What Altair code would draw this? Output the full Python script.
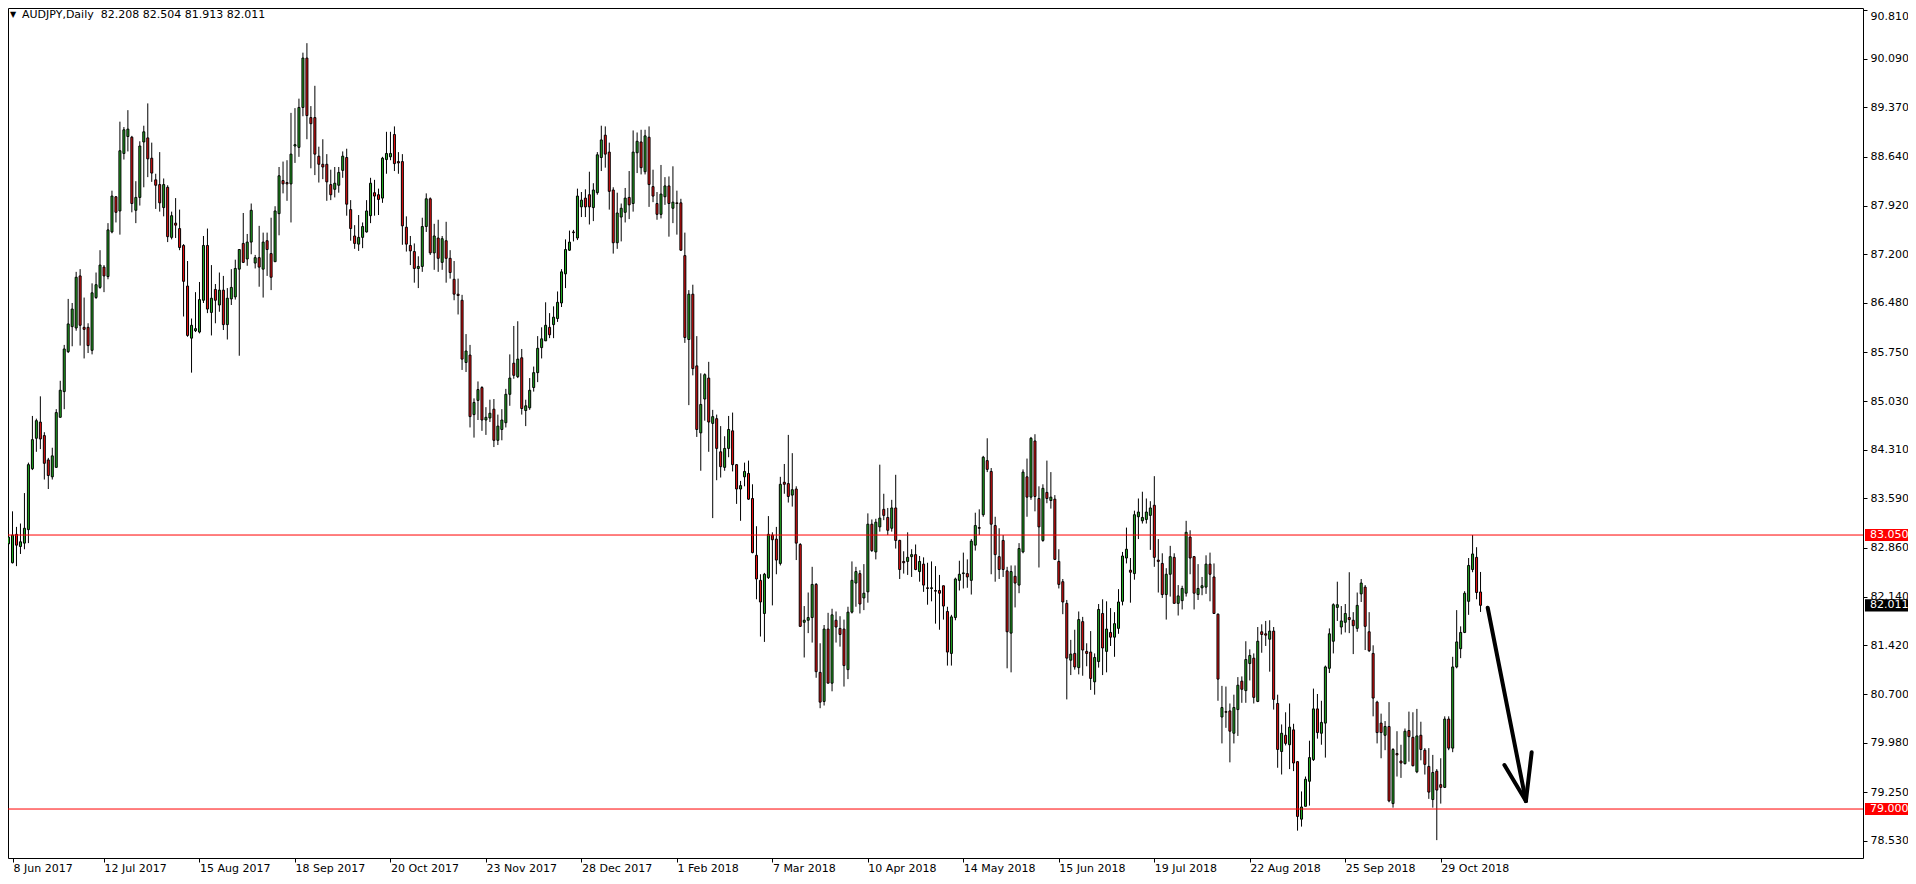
import altair as alt
import pandas as pd

# ---- data (daily AUDJPY candles, 8 Jun 2017 .. 12 Nov 2018) ----
date_labels = ["8 Jun 2017", "12 Jul 2017", "15 Aug 2017", "18 Sep 2017", "20 Oct 2017",
               "23 Nov 2017", "28 Dec 2017", "1 Feb 2018", "7 Mar 2018", "10 Apr 2018",
               "14 May 2018", "15 Jun 2018", "19 Jul 2018", "22 Aug 2018", "25 Sep 2018",
               "29 Oct 2018"]
price_ticks = [90.81, 90.09, 89.37, 88.64, 87.92, 87.20, 86.48, 85.75, 85.03, 84.31,
               83.59, 82.86, 82.14, 81.42, 80.70, 79.98, 79.25, 78.53]

opens = [
    82.92, 82.64, 83.06, 82.88, 82.93, 83.13, 84.03, 84.48, 84.72, 84.52,
    84.16, 83.91, 84.05, 84.79, 85.17, 85.76, 86.13, 86.11, 86.88, 86.12,
    86.12, 85.78, 86.56, 86.71, 87.01, 86.87, 87.53, 88.05, 87.84, 88.69,
    88.94, 88.93, 87.85, 88.04, 88.86, 88.92, 88.62, 88.30, 88.23, 87.89,
    88.19, 87.45, 87.66, 87.58, 87.33, 86.73, 85.96, 86.07, 86.05, 86.52,
    87.33, 86.34, 86.68, 86.45, 86.67, 86.16, 86.54, 86.57, 86.98, 87.36,
    87.13, 87.38, 87.07, 87.15, 86.98, 87.40, 87.21, 87.09, 87.80, 88.29,
    88.26, 88.24, 88.80, 88.78, 89.37, 90.10, 89.22, 89.22, 88.65, 88.53,
    88.53, 88.23, 88.16, 88.22, 88.44, 88.63, 87.86, 87.47, 87.35, 87.45,
    87.53, 87.77, 88.11, 88.08, 88.03, 88.60, 88.64, 88.97, 88.57, 88.57,
    87.60, 87.33, 87.24, 86.99, 87.02, 87.61, 88.02, 87.22, 87.44, 87.08,
    87.40, 87.14, 86.83, 86.61, 86.52, 85.60, 85.71, 84.83, 85.04, 85.23,
    84.75, 84.78, 84.91, 84.45, 84.61, 84.71, 85.13, 85.59, 85.39, 85.67,
    84.89, 84.93, 85.23, 85.45, 85.82, 85.92, 86.12, 86.16, 86.25, 86.48,
    86.91, 87.26, 87.53, 87.44, 87.90, 88.03, 88.08, 87.89, 88.11, 88.63,
    88.96, 88.71, 88.15, 87.37, 87.75, 87.82, 88.04, 87.95, 88.70, 88.86,
    88.42, 88.93, 88.20, 87.95, 87.79, 88.05, 88.21, 87.88, 87.96, 87.96,
    87.18, 85.94, 86.61, 85.55, 84.56, 85.06, 85.37, 84.70, 84.77, 84.28,
    84.05, 84.33, 84.59, 84.09, 83.73, 83.91, 83.96, 83.59, 82.75, 82.38,
    81.89, 82.42, 83.05, 82.99, 82.63, 83.83, 83.81, 83.64, 83.73, 82.91,
    81.76, 81.79, 81.83, 82.32, 81.02, 80.59, 81.66, 80.86, 81.79, 81.67,
    81.66, 81.06, 81.91, 82.34, 82.48, 82.12, 82.21, 83.21, 82.80, 83.17,
    83.43, 83.31, 83.15, 83.45, 82.97, 82.66, 82.66, 82.73, 82.76, 82.51,
    82.62, 82.27, 82.26, 82.23, 82.23, 82.30, 81.92, 81.30, 81.83, 82.38,
    82.48, 82.48, 82.38, 82.90, 83.16, 83.35, 84.15, 83.99, 83.19, 82.73,
    82.97, 82.52, 81.60, 82.44, 82.31, 82.80, 83.91, 83.61, 84.44, 83.59,
    82.97, 83.68, 83.56, 83.58, 82.66, 82.36, 82.04, 81.20, 81.30, 81.09,
    81.77, 81.33, 81.32, 80.88, 81.18, 81.89, 81.33, 81.61, 81.54, 81.67,
    82.07, 82.71, 82.53, 82.48, 83.32, 83.26, 83.28, 83.34, 83.49, 82.68,
    82.63, 82.17, 82.47, 82.72, 82.04, 82.08, 82.19, 83.02, 82.73, 82.17,
    82.27, 82.28, 82.62, 82.43, 81.88, 80.36, 80.44, 80.45, 80.12, 80.47,
    80.89, 80.75, 81.15, 81.23, 80.59, 81.62, 81.59, 81.51, 81.63, 80.56,
    79.85, 80.09, 79.95, 80.17, 79.70, 78.85, 79.04, 79.41, 79.73, 80.48,
    80.12, 80.27, 81.08, 81.48, 81.98, 81.69, 81.76, 81.83, 81.79, 81.67,
    82.18, 82.28, 81.62, 81.30, 80.58, 80.27, 80.09, 80.22, 79.08, 79.82,
    79.71, 79.67, 80.16, 80.06, 79.55, 80.09, 79.87, 79.63, 79.14, 79.56,
    79.36, 79.32, 80.33, 79.90, 81.10, 81.37, 81.61, 82.07, 82.54, 82.72,
    82.208,
]
highs = [
    83.22, 83.40, 83.17, 83.22, 83.67, 84.12, 84.81, 84.77, 85.10, 84.57,
    84.19, 84.34, 84.91, 85.33, 85.86, 86.54, 86.48, 86.94, 86.98, 86.56,
    86.18, 86.77, 86.93, 87.26, 87.04, 87.66, 88.14, 88.06, 89.16, 89.08,
    89.33, 88.95, 88.28, 88.87, 89.10, 89.43, 88.85, 88.39, 88.71, 88.32,
    88.22, 87.83, 88.03, 87.86, 87.35, 87.10, 86.25, 86.64, 86.79, 87.47,
    87.58, 87.04, 86.76, 86.93, 86.88, 86.70, 86.98, 87.12, 87.27, 87.81,
    87.50, 87.95, 87.19, 87.62, 87.52, 87.52, 87.74, 87.91, 88.49, 88.57,
    88.59, 89.29, 89.36, 89.50, 90.18, 90.32, 89.39, 89.69, 88.79, 88.90,
    88.68, 88.45, 88.49, 88.49, 88.72, 88.76, 88.00, 87.63, 87.78, 87.67,
    88.00, 88.33, 88.30, 88.17, 88.64, 89.01, 89.01, 89.09, 88.71, 88.68,
    87.76, 87.47, 87.36, 87.17, 87.74, 88.10, 88.04, 87.65, 87.71, 87.47,
    87.68, 87.26, 87.10, 86.84, 86.60, 86.02, 85.86, 85.07, 85.32, 85.25,
    84.94, 85.05, 85.06, 84.83, 84.91, 85.21, 85.72, 86.14, 86.21, 85.80,
    85.05, 85.37, 85.54, 85.99, 86.12, 86.49, 86.33, 86.43, 86.65, 86.98,
    87.42, 87.55, 87.56, 88.17, 88.12, 88.16, 88.42, 88.25, 88.71, 89.10,
    89.09, 88.85, 88.19, 88.11, 87.95, 88.18, 88.43, 89.03, 89.00, 89.04,
    89.04, 89.09, 88.45, 88.12, 88.52, 88.34, 88.35, 88.50, 88.14, 88.02,
    87.52, 86.67, 86.75, 85.99, 85.44, 85.44, 85.61, 84.90, 84.83, 84.66,
    84.51, 84.81, 84.86, 84.10, 83.85, 84.12, 84.15, 83.80, 83.18, 82.47,
    82.49, 83.33, 83.09, 83.17, 83.91, 84.10, 84.53, 84.26, 83.77, 82.93,
    82.00, 82.20, 82.58, 82.34, 81.45, 81.72, 81.90, 81.96, 81.92, 81.85,
    81.80, 81.99, 82.66, 82.58, 82.53, 82.62, 83.37, 83.28, 83.29, 84.09,
    83.66, 83.45, 83.57, 83.94, 82.98, 82.81, 83.09, 82.84, 82.91, 82.74,
    82.72, 82.64, 82.66, 82.59, 82.46, 82.30, 81.99, 81.87, 82.42, 82.67,
    82.79, 82.69, 82.99, 83.38, 83.43, 84.22, 84.48, 84.04, 83.32, 83.15,
    83.05, 82.58, 82.60, 82.60, 82.93, 84.02, 84.18, 84.50, 84.54, 83.77,
    83.80, 84.15, 83.98, 83.64, 82.84, 82.40, 82.09, 81.50, 81.65, 81.92,
    81.84, 81.45, 81.63, 81.30, 82.03, 82.10, 82.07, 81.97, 81.91, 82.25,
    82.80, 83.16, 82.71, 83.41, 83.59, 83.69, 83.59, 83.55, 83.92, 82.99,
    82.78, 82.56, 82.89, 82.78, 82.31, 82.30, 83.26, 83.12, 82.74, 82.62,
    82.43, 82.75, 82.79, 82.63, 81.89, 80.82, 80.81, 80.56, 80.69, 80.95,
    80.96, 81.48, 81.36, 81.30, 81.69, 81.73, 81.78, 81.79, 81.69, 80.69,
    80.25, 80.43, 80.56, 80.26, 79.71, 79.26, 79.48, 80.01, 80.78, 80.70,
    80.60, 81.12, 81.67, 82.04, 82.36, 82.00, 82.03, 82.50, 81.91, 82.20,
    82.40, 82.31, 81.91, 81.42, 80.60, 80.41, 80.30, 80.58, 79.90, 80.15,
    79.95, 80.19, 80.44, 80.43, 80.48, 80.29, 79.90, 79.90, 79.80, 79.59,
    79.75, 80.37, 80.37, 81.25, 81.94, 81.70, 82.22, 82.71, 83.05, 82.87,
    82.504,
]
lows = [
    82.56, 82.63, 82.59, 82.77, 82.84, 82.93, 84.01, 84.28, 84.32, 83.87,
    83.73, 83.87, 84.05, 84.79, 84.91, 85.74, 85.84, 86.07, 85.85, 85.66,
    85.74, 85.72, 86.54, 86.69, 86.64, 86.83, 87.51, 87.67, 87.49, 88.60,
    88.72, 87.82, 87.66, 87.92, 88.19, 88.34, 88.27, 87.87, 87.83, 87.76,
    87.38, 87.42, 87.44, 87.26, 86.28, 85.98, 85.45, 86.05, 86.03, 86.48,
    86.33, 86.00, 86.18, 86.35, 86.08, 85.94, 86.45, 86.53, 85.70, 87.07,
    87.03, 87.20, 86.99, 86.72, 86.56, 86.88, 86.67, 87.09, 87.48, 88.10,
    87.99, 87.67, 88.55, 88.64, 89.24, 88.90, 88.47, 88.37, 88.26, 88.31,
    87.99, 88.00, 88.04, 88.11, 88.33, 87.77, 87.40, 87.28, 87.25, 87.29,
    87.52, 87.66, 87.77, 87.78, 87.96, 88.39, 88.59, 88.43, 88.39, 87.34,
    87.24, 87.04, 86.78, 86.70, 86.94, 87.53, 87.19, 86.97, 86.94, 86.97,
    86.78, 86.84, 86.52, 86.31, 85.49, 85.46, 84.64, 84.49, 84.75, 84.59,
    84.53, 84.72, 84.35, 84.38, 84.45, 84.64, 84.96, 85.36, 85.37, 84.83,
    84.66, 84.90, 85.17, 85.31, 85.66, 85.92, 85.96, 85.96, 86.20, 86.42,
    86.70, 87.25, 87.39, 87.41, 87.75, 87.75, 87.64, 87.69, 88.08, 88.43,
    88.48, 87.86, 87.21, 87.28, 87.39, 87.67, 87.72, 87.83, 88.40, 88.38,
    88.38, 87.90, 87.97, 87.71, 87.73, 87.93, 87.46, 87.66, 87.49, 87.25,
    85.89, 84.97, 85.41, 84.50, 84.00, 84.74, 84.28, 83.30, 83.86, 83.90,
    84.00, 84.20, 83.99, 83.51, 83.26, 83.77, 83.57, 82.78, 82.10, 81.55,
    81.47, 82.40, 82.01, 82.47, 82.60, 83.66, 83.53, 83.47, 82.68, 81.69,
    81.24, 81.60, 81.46, 80.94, 80.49, 80.53, 80.86, 80.74, 81.46, 81.40,
    80.81, 80.92, 81.89, 81.99, 81.89, 81.94, 82.05, 82.80, 82.69, 83.10,
    83.27, 83.05, 83.10, 82.85, 82.40, 82.48, 82.46, 82.43, 82.53, 82.36,
    82.21, 82.02, 82.07, 81.74, 81.65, 81.80, 81.12, 81.12, 81.79, 82.23,
    82.26, 82.27, 82.17, 82.82, 83.05, 83.32, 83.98, 82.47, 82.36, 82.40,
    82.43, 81.08, 81.02, 81.98, 82.19, 82.78, 83.32, 83.57, 83.40, 82.57,
    82.95, 83.52, 83.44, 82.68, 82.26, 81.88, 80.62, 80.98, 81.06, 80.99,
    80.97, 81.11, 80.76, 80.69, 81.09, 80.98, 81.02, 81.41, 81.25, 81.59,
    82.01, 82.63, 82.05, 82.39, 82.99, 83.22, 83.22, 82.83, 82.58, 82.20,
    82.12, 81.80, 82.14, 82.04, 81.86, 81.95, 82.14, 82.47, 81.95, 82.09,
    82.16, 82.18, 82.07, 81.89, 80.60, 79.97, 80.20, 79.69, 79.97, 80.08,
    80.57, 80.57, 80.90, 80.56, 80.58, 81.31, 81.41, 81.03, 80.47, 79.61,
    79.51, 79.94, 79.59, 79.56, 78.68, 78.74, 79.04, 79.05, 79.71, 80.04,
    79.95, 79.76, 81.01, 81.30, 81.78, 81.58, 81.61, 81.60, 81.29, 81.62,
    82.06, 81.35, 81.32, 80.37, 79.97, 79.75, 79.87, 79.10, 79.02, 79.48,
    79.46, 79.66, 79.70, 79.63, 79.53, 79.72, 79.51, 79.15, 79.02, 78.54,
    79.08, 79.31, 79.87, 79.84, 81.08, 81.23, 81.60, 81.87, 82.50, 82.10,
    81.913,
]
closes = [
    83.02, 83.05, 82.90, 82.95, 83.15, 84.09, 84.46, 84.74, 84.47, 84.11,
    83.93, 84.22, 84.86, 85.19, 85.80, 86.17, 86.39, 86.86, 86.15, 86.09,
    85.85, 86.63, 86.75, 87.04, 86.88, 87.56, 88.06, 87.82, 88.73, 89.04,
    89.05, 87.95, 88.04, 88.80, 89.01, 88.61, 88.40, 88.22, 87.96, 88.23,
    87.46, 87.77, 87.63, 87.30, 86.80, 86.00, 86.15, 86.10, 86.53, 87.33,
    86.39, 86.55, 86.52, 86.67, 86.16, 86.55, 86.71, 86.99, 87.27, 87.08,
    87.38, 87.85, 87.15, 87.01, 87.38, 87.27, 86.86, 87.84, 88.36, 88.24,
    88.24, 88.68, 88.82, 89.37, 90.10, 89.25, 89.13, 88.68, 88.53, 88.49,
    88.27, 88.08, 88.25, 88.41, 88.65, 87.94, 87.58, 87.36, 87.45, 87.61,
    87.84, 88.25, 88.06, 88.01, 88.62, 88.69, 88.69, 88.54, 88.55, 87.62,
    87.35, 87.25, 86.99, 87.02, 87.61, 88.02, 87.22, 87.47, 87.14, 87.43,
    87.14, 86.93, 86.61, 86.59, 85.65, 85.77, 84.80, 85.01, 85.20, 84.75,
    84.79, 84.85, 84.45, 84.66, 84.75, 85.13, 85.37, 85.41, 85.65, 84.92,
    84.96, 85.19, 85.45, 85.81, 85.95, 86.15, 86.01, 86.27, 86.49, 86.94,
    87.27, 87.38, 87.52, 88.06, 88.00, 87.90, 87.90, 88.15, 88.67, 88.89,
    88.68, 88.13, 87.37, 87.81, 87.88, 88.03, 87.93, 88.71, 88.87, 88.48,
    88.95, 88.23, 88.06, 87.79, 88.09, 88.21, 87.95, 87.97, 87.95, 87.26,
    85.97, 86.61, 85.51, 84.61, 84.98, 85.42, 84.72, 84.80, 84.33, 84.06,
    84.33, 84.61, 84.09, 83.73, 83.78, 83.99, 83.58, 82.79, 82.40, 82.06,
    82.47, 83.06, 82.98, 82.68, 83.80, 83.80, 83.62, 83.72, 82.93, 81.70,
    81.79, 81.83, 82.32, 81.03, 80.58, 81.66, 80.86, 81.87, 81.69, 81.58,
    81.12, 81.91, 82.38, 82.51, 82.03, 82.19, 83.21, 82.82, 83.24, 83.30,
    83.34, 83.12, 83.45, 82.97, 82.54, 82.64, 82.72, 82.76, 82.54, 82.66,
    82.31, 82.26, 82.27, 82.22, 82.19, 82.00, 81.32, 81.84, 82.40, 82.47,
    82.49, 82.43, 82.96, 83.19, 83.15, 84.20, 84.02, 83.21, 82.76, 82.54,
    82.54, 81.62, 82.51, 82.34, 82.85, 83.98, 83.61, 84.48, 83.62, 83.17,
    83.74, 83.59, 83.61, 82.69, 82.32, 82.06, 81.23, 81.29, 81.10, 81.80,
    81.35, 81.30, 80.93, 81.24, 81.95, 81.38, 81.66, 81.54, 81.74, 82.06,
    82.74, 82.84, 82.50, 83.35, 83.39, 83.31, 83.39, 83.45, 82.72, 82.66,
    82.17, 82.47, 82.73, 82.04, 82.15, 82.26, 83.09, 82.71, 82.19, 82.26,
    82.30, 82.62, 82.47, 81.89, 80.92, 80.50, 80.43, 80.15, 80.50, 80.83,
    80.77, 81.21, 81.27, 80.65, 81.48, 81.58, 81.57, 81.63, 80.62, 79.88,
    80.12, 79.97, 80.21, 79.68, 78.89, 79.03, 79.44, 79.76, 80.48, 80.13,
    80.28, 81.10, 81.59, 82.02, 82.02, 81.78, 81.89, 81.80, 81.71, 82.01,
    82.34, 81.70, 81.34, 80.64, 80.13, 80.13, 80.22, 79.12, 79.88, 79.80,
    79.68, 80.15, 80.07, 79.64, 80.08, 79.88, 79.66, 79.25, 79.54, 79.28,
    79.32, 80.33, 79.90, 81.10, 81.47, 81.61, 82.19, 82.60, 82.77, 82.20,
    82.011,
]

level_prices = [83.05, 79.00]
level_labels = ["83.050", "79.000"]
last_price = 82.011
title_text = "AUDJPY,Daily\u00a0 82.208 82.504 81.913 82.011"

# hand-drawn arrow, in bar-index / price coordinates
arrow_x = [371.8, 376.0, 382.85]
arrow_y = [81.975, 79.65, 79.838]
arrow_x2 = [381.4, 381.4, 381.4]
arrow_y2 = [79.118, 79.118, 79.118]

# ---- frame ----
W, H = 1855, 850
X0 = 1.125
xscale = alt.Scale(domain=[X0, X0 + W / 4.0], nice=False, zero=False)
yscale = alt.Scale(domain=[78.276, 90.840], nice=False, zero=False)
FONT = "DejaVu Sans"
GREEN = "#22AA22"
RED = "#EE1111"

n = len(opens)
df = pd.DataFrame({"i": list(range(n)), "open": opens, "high": highs,
                   "low": lows, "close": closes})
df["dir"] = ["up" if c >= o else "down" for o, c in zip(opens, closes)]

xtick_vals = [X0] + [24 * k for k in range(1, len(date_labels))]
label_arr = "[" + ",".join("'" + s + "'" for s in date_labels) + "]"

xaxis = alt.Axis(values=xtick_vals, labelExpr=label_arr + "[round(datum.value/24)]",
                 orient="bottom", tickSize=4, labelPadding=0, labelAlign="left",
                 labelFlush=False, labelOverlap=False, labelBound=False,
                 title=None, grid=False, domain=False)
yaxis = alt.Axis(values=price_ticks, format=".3f", orient="right", tickSize=4,
                 labelPadding=3, title=None, grid=False, domain=False,
                 labelOverlap=False, labelFlush=3, labelBound=False)

base = alt.Chart(df)

wicks = base.mark_rule(color="black", strokeWidth=1, clip=True).encode(
    x=alt.X("i:Q", scale=xscale, axis=xaxis),
    y=alt.Y("low:Q", scale=yscale, axis=yaxis),
    y2="high:Q",
)

bodies = base.mark_bar(size=2, stroke="black", strokeWidth=1, clip=True).encode(
    x=alt.X("i:Q", scale=xscale, axis=xaxis),
    y=alt.Y("open:Q", scale=yscale, axis=yaxis),
    y2="close:Q",
    color=alt.Color("dir:N", scale=alt.Scale(domain=["up", "down"], range=[GREEN, RED]),
                    legend=None),
)

lv = pd.DataFrame({"p": level_prices, "t": level_labels,
                   "lo": [p - 0.09 for p in level_prices],
                   "hi": [p + 0.09 for p in level_prices]})
level_lines = alt.Chart(lv).mark_rule(color="#FF0000", strokeWidth=1).encode(
    y=alt.Y("p:Q", scale=yscale, axis=yaxis),
    x=alt.value(0), x2=alt.value(W),
)
level_boxes = alt.Chart(lv).mark_rect(color="#FF0000").encode(
    y=alt.Y("lo:Q", scale=yscale, axis=yaxis), y2="hi:Q",
    x=alt.value(W + 2), x2=alt.value(W + 46),
)
level_text = alt.Chart(lv).mark_text(color="white", font=FONT, fontSize=11,
                                     align="left", baseline="middle").encode(
    y=alt.Y("p:Q", scale=yscale, axis=yaxis), x=alt.value(W + 7), text="t:N",
)

lp = pd.DataFrame({"p": [last_price], "t": ["%.3f" % last_price],
                   "lo": [last_price - 0.09], "hi": [last_price + 0.09]})
last_box = alt.Chart(lp).mark_rect(color="black").encode(
    y=alt.Y("lo:Q", scale=yscale, axis=yaxis), y2="hi:Q",
    x=alt.value(W + 2), x2=alt.value(W + 46),
)
last_text = alt.Chart(lp).mark_text(color="white", font=FONT, fontSize=11,
                                    align="left", baseline="middle").encode(
    y=alt.Y("p:Q", scale=yscale, axis=yaxis), x=alt.value(W + 7), text="t:N",
)

arr = pd.DataFrame({"x": arrow_x, "y": arrow_y, "x2": arrow_x2, "y2": arrow_y2})
arrow = alt.Chart(arr).mark_rule(color="black", strokeWidth=4, strokeCap="round").encode(
    x=alt.X("x:Q", scale=xscale, axis=xaxis), x2="x2:Q",
    y=alt.Y("y:Q", scale=yscale, axis=yaxis), y2="y2:Q",
)

tt = pd.DataFrame({"t": [title_text], "s": ["\u25bc"]})
title_mark = alt.Chart(tt).mark_text(color="black", font=FONT, fontSize=11,
                                     align="left", baseline="middle").encode(
    x=alt.value(14), y=alt.value(7), text="t:N")
tri_mark = alt.Chart(tt).mark_text(color="black", font=FONT, fontSize=8,
                                   align="center", baseline="middle").encode(
    x=alt.value(5), y=alt.value(7), text="s:N")

chart = alt.layer(
    wicks, bodies, level_lines, level_boxes, level_text, last_box, last_text,
    arrow, title_mark, tri_mark,
).properties(
    width=W, height=H,
    padding={"left": 0, "top": 0, "right": 45, "bottom": 18},
    autosize=alt.AutoSizeParams(type="none"),
    background="white",
).configure_view(
    stroke="black", strokeWidth=1,
).configure_axis(
    labelFont=FONT, labelFontSize=11, labelColor="black", tickColor="black",
    tickWidth=1,
)

chart.save("out.html", embed_options={"renderer": "svg", "actions": False})
